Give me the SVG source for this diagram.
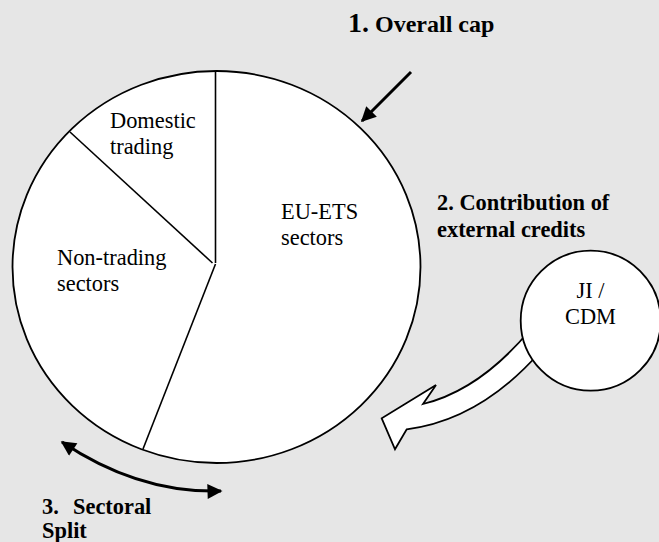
<svg xmlns="http://www.w3.org/2000/svg" width="659" height="542" viewBox="0 0 659 542">
  <defs>
    <marker id="head" viewBox="0 0 10 10" refX="9" refY="5" markerWidth="6" markerHeight="5" markerUnits="strokeWidth" orient="auto-start-reverse">
      <path d="M0,0 L10,5 L0,10 z" fill="#000"/>
    </marker>
  </defs>
  <style>
    .bg { fill: #e6e6e6; }
    .shape { fill: #fff; stroke: #000; stroke-width: 1.8; }
    .split { fill: none; stroke: #000; stroke-width: 1.6; }
    .conn { fill: none; stroke: #000; stroke-width: 3; }
    text { font-family: 'Liberation Serif', 'DejaVu Serif', serif; font-size: 22.4px; fill: #000; }
    .lbl { font-weight: bold; }
  </style>

  <rect class="bg" x="0" y="0" width="659" height="542"/>

  <!-- emissions pie -->
  <g id="pie">
    <ellipse class="shape" cx="216.5" cy="267" rx="204" ry="196"/>
    <line class="split" x1="215.5" y1="71" x2="215.5" y2="263"/>
    <line class="split" x1="70" y1="132" x2="212.5" y2="263"/>
    <line class="split" x1="215.5" y1="264" x2="143" y2="449"/>
  </g>

  <g id="domestic">
    <text x="110" y="128">Domestic</text>
    <text x="110" y="154">trading</text>
  </g>
  <g id="euets">
    <text x="281" y="219">EU-ETS</text>
    <text x="281" y="245">sectors</text>
  </g>
  <g id="nontrading">
    <text x="57" y="265">Non-trading</text>
    <text x="57" y="291">sectors</text>
  </g>

  <!-- connectors -->
  <g id="connectors">
    <line class="conn" x1="411" y1="72" x2="362" y2="121" marker-end="url(#head)"/>
    <path class="conn" d="M62,442 Q138.5,493.5 221,491" marker-start="url(#head)" marker-end="url(#head)"/>
    <path class="shape" d="M530,330 Q480,390 423,404 L436,385 L381.7,418.3 L395,449.3 L406.7,429.3 Q480,420 540,352 Z"/>
  </g>

  <g id="jicdm">
    <circle class="shape" cx="590.7" cy="320.7" r="70"/>
    <text x="590.5" y="298" text-anchor="middle">JI /</text>
    <text x="590.5" y="324" text-anchor="middle">CDM</text>
  </g>

  <g id="label-cap">
    <text class="lbl" x="348" y="32"><tspan font-size="28">1.</tspan><tspan x="375" font-size="24">Overall cap</tspan></text>
  </g>
  <g id="label-credits">
    <text class="lbl" x="437" y="210">2. Contribution of</text>
    <text class="lbl" x="437" y="237">external credits</text>
  </g>
  <g id="label-split">
    <text class="lbl" x="42" y="514">3.<tspan x="73">Sectoral</tspan></text>
    <text class="lbl" x="42" y="538">Split</text>
  </g>
</svg>
